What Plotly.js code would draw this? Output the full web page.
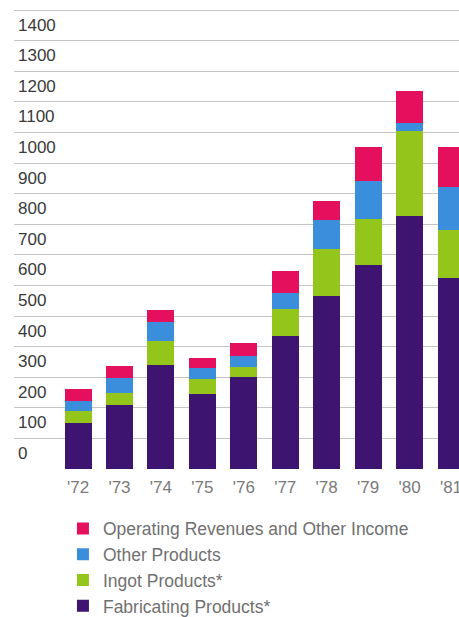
<!DOCTYPE html>
<html>
<head>
<meta charset="utf-8">
<script src="https://cdn.plot.ly/plotly-3.0.1.min.js"></script>
<style>html,body{margin:0;padding:0;background:#fff;}#chart{width:459px;height:617px;}</style>
</head>
<body>
<div id="chart"></div>
<script>
var years = ["'72", "'73", "'74", "'75", "'76", "'77", "'78", "'79", "'80", "'81"];
var fabricating = [151, 209, 339, 244, 300, 436, 566, 666, 826, 624];
var ingot = [38, 38, 78, 49, 33, 87, 154, 151, 278, 158];
var other = [32, 49, 62, 36, 37, 52, 95, 123, 27, 140];
var operating = [39, 41, 40, 33, 42, 73, 61, 114, 103, 129];
var yTicks = [0, 100, 200, 300, 400, 500, 600, 700, 800, 900, 1000, 1100, 1200, 1300, 1400, 1500];

var idx = years.map(function (_, i) { return i; });
function series(name, vals, color) {
  return {type: 'bar', name: name, x: idx, y: vals, marker: {color: color, line: {width: 0}},
          legendgroup: name, hoverinfo: 'skip'};
}
var data = [
  series('Fabricating Products*', fabricating, '#3d1470'),
  series('Ingot Products*', ingot, '#94c51a'),
  series('Other Products', other, '#3a8edc'),
  series('Operating Revenues and Other Income', operating, '#e4105e')
];
var layout = {
  width: 459, height: 617,
  margin: {l: 14, r: 0, t: 0, b: 148, autoexpand: false},
  paper_bgcolor: '#ffffff', plot_bgcolor: '#ffffff',
  barmode: 'stack', bargap: 0.35,
  font: {family: 'Liberation Sans, Arial, sans-serif', color: '#555'},
  xaxis: {
    range: [-1.546, 9.193], tickmode: 'array', tickvals: idx, ticktext: years,
    showgrid: false, zeroline: false, showline: false, ticks: '', automargin: false,
    ticklabelstandoff: 6, ticklabeloverflow: 'allow',
    tickfont: {size: 17, color: '#7a7a7a'}, fixedrange: true
  },
  yaxis: {
    range: [0, 1533], tickmode: 'array', tickvals: yTicks, ticktext: yTicks.map(String),
    showgrid: true, gridcolor: '#c4c4c4', gridwidth: 1, zeroline: false, showline: false,
    ticks: '', ticklabelposition: 'inside', ticklabelshift: -16, ticklabelstandoff: 1,
    automargin: false,
    tickfont: {size: 17, color: '#3a3a3a'}, fixedrange: true
  },
  showlegend: true,
  legend: {
    orientation: 'v', traceorder: 'reversed', x: 0.11, xanchor: 'left', y: -0.089, yanchor: 'top',
    font: {size: 17.5, color: '#707070'}, bgcolor: 'rgba(0,0,0,0)', tracegroupgap: 0
  }
};
Plotly.newPlot('chart', data, layout, {displayModeBar: false, staticPlot: true});
</script>
</body>
</html>
